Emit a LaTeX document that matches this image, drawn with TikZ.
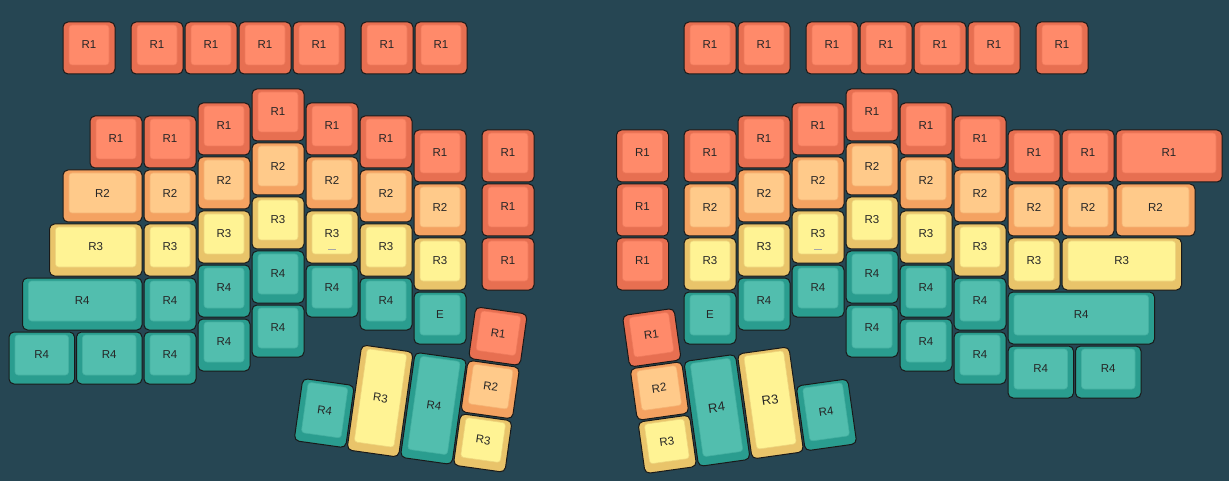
\documentclass[tikz,border=0pt]{standalone}
\usepackage{fontspec}
\newfontfamily\keyfont{Liberation Sans}
\definecolor{bg}{HTML}{264653}
\definecolor{aO}{HTML}{E76F51}\definecolor{aI}{HTML}{FF8A6A}\definecolor{aE}{HTML}{EE7A5C}
\definecolor{bO}{HTML}{F4A261}\definecolor{bI}{HTML}{FFCA8A}\definecolor{bE}{HTML}{F5B374}
\definecolor{cO}{HTML}{E9C46A}\definecolor{cI}{HTML}{FFF394}\definecolor{cE}{HTML}{EED67E}
\definecolor{dO}{HTML}{2A9D8F}\definecolor{dI}{HTML}{52BEAE}\definecolor{dE}{HTML}{44B0A1}
\tikzset{
  keycap/.style={draw=black!90, line width=1pt, rounded corners=5pt},
  keytop/.style={line width=0.6pt, rounded corners=3pt},
  lbl/.style={font=\keyfont\fontsize{11.5}{13}\selectfont, text=black!85, inner sep=0pt},
  biglbl/.style={font=\keyfont\fontsize{13}{15}\selectfont},
  homing/.style={draw=black!35, line width=0.8pt}
}
\newcommand\keybody[6]{%
  \pgfmathsetmacro\kw{54*#2-2}%
  \pgfmathsetmacro\kh{54*#3-2}%
  \draw[keycap,fill=#4O] (0,0) rectangle (\kw,\kh);
  \draw[keytop,fill=#4I,draw=#4E] (6,3) rectangle (\kw-6,\kh-9);
  \node[lbl,#6] (#1) at (\kw/2,{(\kh-6)/2}) {#5};
}
\newcommand\kk[7]{\begin{scope}[shift={(#2,#3)}]\keybody{#1}{#4}{#5}{#6}{#7}{}\end{scope}}
\newcommand\rk[9]{%
  \begin{scope}[shift={(#2,#3)},rotate=#6,transform shape]
  \begin{scope}[shift={({-(54*#4-2)/2},{-(54*#5-2)/2})}]
  \keybody{#1}{#4}{#5}{#7}{#8}{#9}
  \end{scope}\end{scope}}
\newcommand\hm[2]{\draw[homing] (#1+22,#2+38.5) -- (#1+30,#2+38.5);}
\begin{document}
\begin{tikzpicture}[x=1pt,y=-1pt]
\fill[bg] (0,0) rectangle (1229,481);
% ---------- left top row
\kk{lt1}{63}{22}{1}{1}{a}{R1}
\kk{lt2}{131}{22}{1}{1}{a}{R1}
\kk{lt3}{185}{22}{1}{1}{a}{R1}
\kk{lt4}{239}{22}{1}{1}{a}{R1}
\kk{lt5}{293}{22}{1}{1}{a}{R1}
\kk{lt6}{361}{22}{1}{1}{a}{R1}
\kk{lt7}{415}{22}{1}{1}{a}{R1}
% ---------- left main
\kk{la1}{90}{116}{1}{1}{a}{R1}
\kk{la2}{144}{116}{1}{1}{a}{R1}
\kk{la3}{198}{103}{1}{1}{a}{R1}
\kk{la4}{252}{89}{1}{1}{a}{R1}
\kk{la5}{306}{103}{1}{1}{a}{R1}
\kk{la6}{360}{116}{1}{1}{a}{R1}
\kk{la7}{414}{130}{1}{1}{a}{R1}
\kk{la8}{482}{130}{1}{1}{a}{R1}
\kk{la9}{482}{184}{1}{1}{a}{R1}
\kk{la10}{482}{238}{1}{1}{a}{R1}
\kk{lb1}{63}{170}{1.5}{1}{b}{R2}
\kk{lb2}{144}{170}{1}{1}{b}{R2}
\kk{lb3}{198}{157}{1}{1}{b}{R2}
\kk{lb4}{252}{143}{1}{1}{b}{R2}
\kk{lb5}{306}{157}{1}{1}{b}{R2}
\kk{lb6}{360}{170}{1}{1}{b}{R2}
\kk{lb7}{414}{184}{1}{1}{b}{R2}
\kk{lc1}{49.5}{224}{1.75}{1}{c}{R3}
\kk{lc2}{144}{224}{1}{1}{c}{R3}
\kk{lc3}{198}{211}{1}{1}{c}{R3}
\kk{lc4}{252}{197}{1}{1}{c}{R3}
\kk{lc5}{306}{211}{1}{1}{c}{R3}
\hm{306}{211}
\kk{lc6}{360}{224}{1}{1}{c}{R3}
\kk{lc7}{414}{238}{1}{1}{c}{R3}
\kk{ld1}{22.5}{278}{2.25}{1}{d}{R4}
\kk{ld2}{144}{278}{1}{1}{d}{R4}
\kk{ld3}{198}{265}{1}{1}{d}{R4}
\kk{ld4}{252}{251}{1}{1}{d}{R4}
\kk{ld5}{306}{265}{1}{1}{d}{R4}
\kk{ld6}{360}{278}{1}{1}{d}{R4}
\kk{ld7}{414}{292}{1}{1}{d}{E}
\kk{le1}{9}{332}{1.25}{1}{d}{R4}
\kk{le2}{76.5}{332}{1.25}{1}{d}{R4}
\kk{le3}{144}{332}{1}{1}{d}{R4}
\kk{le4}{198}{319}{1}{1}{d}{R4}
\kk{le5}{252}{305}{1}{1}{d}{R4}
% ---------- left thumb
\rk{lth1}{324.2}{413.1}{1}{1.2}{-8}{d}{R4}{}
\rk{lth2}{380.1}{401}{1}{2}{-8}{c}{R3}{}
\rk{lth3}{433.5}{408.4}{1}{2}{-8}{d}{R4}{}
\rk{lth4}{497.9}{336.2}{1}{1}{-8}{a}{R1}{}
\rk{lth5}{490.2}{389.6}{1}{1}{-8}{b}{R2}{}
\rk{lth6}{482.7}{443.0}{1}{1}{-8}{c}{R3}{}
% ---------- right top row
\kk{rt1}{684}{22}{1}{1}{a}{R1}
\kk{rt2}{738}{22}{1}{1}{a}{R1}
\kk{rt3}{806}{22}{1}{1}{a}{R1}
\kk{rt4}{860}{22}{1}{1}{a}{R1}
\kk{rt5}{914}{22}{1}{1}{a}{R1}
\kk{rt6}{968}{22}{1}{1}{a}{R1}
\kk{rt7}{1036}{22}{1}{1}{a}{R1}
% ---------- right main
\kk{ra1}{616.5}{130}{1}{1}{a}{R1}
\kk{ra2}{616.5}{184}{1}{1}{a}{R1}
\kk{ra3}{616.5}{238}{1}{1}{a}{R1}
\kk{ra4}{684}{130}{1}{1}{a}{R1}
\kk{ra5}{738}{116}{1}{1}{a}{R1}
\kk{ra6}{792}{103}{1}{1}{a}{R1}
\kk{ra7}{846}{89}{1}{1}{a}{R1}
\kk{ra8}{900}{103}{1}{1}{a}{R1}
\kk{ra9}{954}{116}{1}{1}{a}{R1}
\kk{ra10}{1008}{130}{1}{1}{a}{R1}
\kk{ra11}{1062}{130}{1}{1}{a}{R1}
\kk{ra12}{1116}{130}{2}{1}{a}{R1}
\kk{rb1}{684}{184}{1}{1}{b}{R2}
\kk{rb2}{738}{170}{1}{1}{b}{R2}
\kk{rb3}{792}{157}{1}{1}{b}{R2}
\kk{rb4}{846}{143}{1}{1}{b}{R2}
\kk{rb5}{900}{157}{1}{1}{b}{R2}
\kk{rb6}{954}{170}{1}{1}{b}{R2}
\kk{rb7}{1008}{184}{1}{1}{b}{R2}
\kk{rb8}{1062}{184}{1}{1}{b}{R2}
\kk{rb9}{1116}{184}{1.5}{1}{b}{R2}
\kk{rc1}{684}{238}{1}{1}{c}{R3}
\kk{rc2}{738}{224}{1}{1}{c}{R3}
\kk{rc3}{792}{211}{1}{1}{c}{R3}
\hm{792}{211}
\kk{rc4}{846}{197}{1}{1}{c}{R3}
\kk{rc5}{900}{211}{1}{1}{c}{R3}
\kk{rc6}{954}{224}{1}{1}{c}{R3}
\kk{rc7}{1008}{238}{1}{1}{c}{R3}
\kk{rc8}{1062}{238}{2.25}{1}{c}{R3}
\kk{rd1}{684}{292}{1}{1}{d}{E}
\kk{rd2}{738}{278}{1}{1}{d}{R4}
\kk{rd3}{792}{265}{1}{1}{d}{R4}
\kk{rd4}{846}{251}{1}{1}{d}{R4}
\kk{rd5}{900}{265}{1}{1}{d}{R4}
\kk{rd6}{954}{278}{1}{1}{d}{R4}
\kk{rd7}{1008}{292}{2.75}{1}{d}{R4}
\kk{re1}{846}{305}{1}{1}{d}{R4}
\kk{re2}{900}{319}{1}{1}{d}{R4}
\kk{re3}{954}{332}{1}{1}{d}{R4}
\kk{re4}{1008}{346}{1.25}{1}{d}{R4}
\kk{re5}{1075.5}{346}{1.25}{1}{d}{R4}
% ---------- right thumb
\rk{rth1}{651.8}{337.7}{1}{1}{8}{a}{R1}{}
\rk{rth2}{659.5}{391}{1}{1}{8}{b}{R2}{}
\rk{rth3}{667.3}{444.3}{1}{1}{8}{c}{R3}{}
\rk{rth4}{717}{410.4}{1}{2}{8}{d}{R4}{biglbl}
\rk{rth5}{770.5}{402.9}{1}{2}{8}{c}{R3}{biglbl}
\rk{rth6}{826.5}{414.9}{1}{1.25}{8}{d}{R4}{}
\end{tikzpicture}
\end{document}
